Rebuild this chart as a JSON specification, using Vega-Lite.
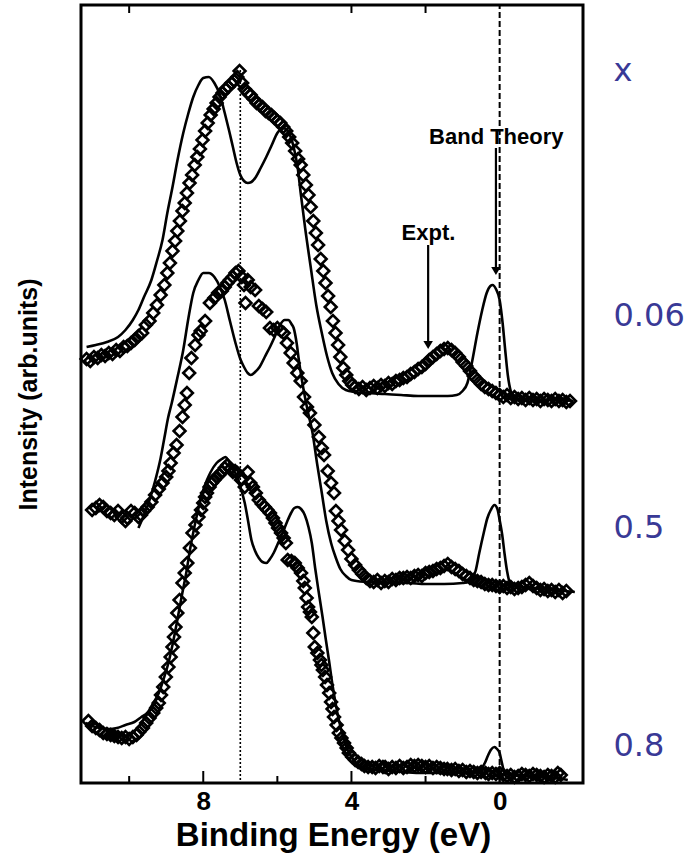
{
"$schema":"https://vega.github.io/schema/vega-lite/v6.json",
"width":502,"height":778,
"autosize":{"type":"none"},
"padding":{"left":81,"top":5,"right":110,"bottom":78},
"background":"white",
"config":{"view":{"stroke":"#000","strokeWidth":3},"axis":{"grid":false}},
"datasets":{
"expt":[
{"s":"0.06","E":11.15,"I":424},{"s":"0.06","E":11.05,"I":422},{"s":"0.06","E":10.95,"I":426},{"s":"0.06","E":10.85,"I":425},{"s":"0.06","E":10.75,"I":428},{"s":"0.06","E":10.65,"I":427},{"s":"0.06","E":10.55,"I":430},{"s":"0.06","E":10.45,"I":429},{"s":"0.06","E":10.35,"I":433},{"s":"0.06","E":10.25,"I":432},{"s":"0.06","E":10.15,"I":436},{"s":"0.06","E":10.05,"I":437},{"s":"0.06","E":9.95,"I":440},{"s":"0.06","E":9.85,"I":443},{"s":"0.06","E":9.75,"I":447},{"s":"0.06","E":9.65,"I":450},{"s":"0.06","E":9.55,"I":458},{"s":"0.06","E":9.45,"I":462},{"s":"0.06","E":9.35,"I":470},{"s":"0.06","E":9.25,"I":478},{"s":"0.06","E":9.15,"I":488},{"s":"0.06","E":9.05,"I":498},{"s":"0.06","E":8.97,"I":510},{"s":"0.06","E":8.9,"I":520},{"s":"0.06","E":8.83,"I":532},{"s":"0.06","E":8.76,"I":542},{"s":"0.06","E":8.7,"I":552},{"s":"0.06","E":8.63,"I":562},{"s":"0.06","E":8.56,"I":572},{"s":"0.06","E":8.5,"I":580},{"s":"0.06","E":8.44,"I":590},{"s":"0.06","E":8.37,"I":600},{"s":"0.06","E":8.3,"I":608},{"s":"0.06","E":8.23,"I":618},{"s":"0.06","E":8.16,"I":626},{"s":"0.06","E":8.09,"I":634},{"s":"0.06","E":8.02,"I":643},{"s":"0.06","E":7.95,"I":652},{"s":"0.06","E":7.88,"I":660},{"s":"0.06","E":7.8,"I":668},{"s":"0.06","E":7.72,"I":674},{"s":"0.06","E":7.64,"I":680},{"s":"0.06","E":7.56,"I":686},{"s":"0.06","E":7.48,"I":690},{"s":"0.06","E":7.4,"I":694},{"s":"0.06","E":7.32,"I":696},{"s":"0.06","E":7.24,"I":700},{"s":"0.06","E":7.16,"I":702},{"s":"0.06","E":7.08,"I":706},{"s":"0.06","E":7.02,"I":712},{"s":"0.06","E":6.95,"I":700},{"s":"0.06","E":6.88,"I":694},{"s":"0.06","E":6.8,"I":690},{"s":"0.06","E":6.72,"I":688},{"s":"0.06","E":6.64,"I":684},{"s":"0.06","E":6.56,"I":680},{"s":"0.06","E":6.48,"I":678},{"s":"0.06","E":6.4,"I":676},{"s":"0.06","E":6.32,"I":672},{"s":"0.06","E":6.24,"I":670},{"s":"0.06","E":6.16,"I":668},{"s":"0.06","E":6.08,"I":665},{"s":"0.06","E":6.0,"I":662},{"s":"0.06","E":5.92,"I":660},{"s":"0.06","E":5.84,"I":656},{"s":"0.06","E":5.76,"I":652},{"s":"0.06","E":5.68,"I":646},{"s":"0.06","E":5.6,"I":640},{"s":"0.06","E":5.52,"I":632},{"s":"0.06","E":5.44,"I":624},{"s":"0.06","E":5.37,"I":618},{"s":"0.06","E":5.3,"I":608},{"s":"0.06","E":5.23,"I":598},{"s":"0.06","E":5.16,"I":588},{"s":"0.06","E":5.1,"I":576},{"s":"0.06","E":5.03,"I":562},{"s":"0.06","E":4.96,"I":550},{"s":"0.06","E":4.9,"I":538},{"s":"0.06","E":4.83,"I":524},{"s":"0.06","E":4.76,"I":512},{"s":"0.06","E":4.7,"I":500},{"s":"0.06","E":4.63,"I":487},{"s":"0.06","E":4.56,"I":476},{"s":"0.06","E":4.5,"I":462},{"s":"0.06","E":4.43,"I":450},{"s":"0.06","E":4.36,"I":438},{"s":"0.06","E":4.3,"I":426},{"s":"0.06","E":4.22,"I":415},{"s":"0.06","E":4.14,"I":408},{"s":"0.06","E":4.06,"I":402},{"s":"0.06","E":3.98,"I":398},{"s":"0.06","E":3.9,"I":396},{"s":"0.06","E":3.8,"I":394},{"s":"0.06","E":3.7,"I":396},{"s":"0.06","E":3.6,"I":393},{"s":"0.06","E":3.5,"I":395},{"s":"0.06","E":3.4,"I":397},{"s":"0.06","E":3.3,"I":395},{"s":"0.06","E":3.2,"I":398},{"s":"0.06","E":3.1,"I":397},{"s":"0.06","E":3.0,"I":400},{"s":"0.06","E":2.9,"I":399},{"s":"0.06","E":2.8,"I":402},{"s":"0.06","E":2.7,"I":403},{"s":"0.06","E":2.6,"I":405},{"s":"0.06","E":2.5,"I":406},{"s":"0.06","E":2.4,"I":409},{"s":"0.06","E":2.3,"I":411},{"s":"0.06","E":2.2,"I":414},{"s":"0.06","E":2.1,"I":416},{"s":"0.06","E":2.0,"I":419},{"s":"0.06","E":1.9,"I":423},{"s":"0.06","E":1.8,"I":426},{"s":"0.06","E":1.7,"I":429},{"s":"0.06","E":1.6,"I":432},{"s":"0.06","E":1.5,"I":434},{"s":"0.06","E":1.4,"I":435},{"s":"0.06","E":1.3,"I":433},{"s":"0.06","E":1.2,"I":430},{"s":"0.06","E":1.1,"I":426},{"s":"0.06","E":1.0,"I":421},{"s":"0.06","E":0.9,"I":417},{"s":"0.06","E":0.8,"I":412},{"s":"0.06","E":0.7,"I":407},{"s":"0.06","E":0.6,"I":403},{"s":"0.06","E":0.5,"I":399},{"s":"0.06","E":0.4,"I":396},{"s":"0.06","E":0.3,"I":394},{"s":"0.06","E":0.2,"I":392},{"s":"0.06","E":0.1,"I":390},{"s":"0.06","E":0.0,"I":388},{"s":"0.06","E":-0.1,"I":386},{"s":"0.06","E":-0.2,"I":388},{"s":"0.06","E":-0.3,"I":385},{"s":"0.06","E":-0.4,"I":386},{"s":"0.06","E":-0.5,"I":384},{"s":"0.06","E":-0.6,"I":385},{"s":"0.06","E":-0.7,"I":383},{"s":"0.06","E":-0.8,"I":385},{"s":"0.06","E":-0.9,"I":383},{"s":"0.06","E":-1.0,"I":384},{"s":"0.06","E":-1.1,"I":382},{"s":"0.06","E":-1.2,"I":384},{"s":"0.06","E":-1.3,"I":383},{"s":"0.06","E":-1.4,"I":382},{"s":"0.06","E":-1.5,"I":384},{"s":"0.06","E":-1.6,"I":382},{"s":"0.06","E":-1.7,"I":383},{"s":"0.06","E":-1.8,"I":381},{"s":"0.06","E":-1.9,"I":382},
{"s":"0.5","E":11.0,"I":273},{"s":"0.5","E":10.9,"I":275},{"s":"0.5","E":10.8,"I":278},{"s":"0.5","E":10.7,"I":276},{"s":"0.5","E":10.6,"I":272},{"s":"0.5","E":10.5,"I":270},{"s":"0.5","E":10.4,"I":268},{"s":"0.5","E":10.3,"I":272},{"s":"0.5","E":10.2,"I":266},{"s":"0.5","E":10.1,"I":262},{"s":"0.5","E":10.05,"I":265},{"s":"0.5","E":9.95,"I":272},{"s":"0.5","E":9.85,"I":270},{"s":"0.5","E":9.75,"I":266},{"s":"0.5","E":9.68,"I":268},{"s":"0.5","E":9.6,"I":272},{"s":"0.5","E":9.5,"I":276},{"s":"0.5","E":9.4,"I":281},{"s":"0.5","E":9.3,"I":288},{"s":"0.5","E":9.2,"I":294},{"s":"0.5","E":9.1,"I":300},{"s":"0.5","E":9.0,"I":306},{"s":"0.5","E":8.94,"I":312},{"s":"0.5","E":8.88,"I":320},{"s":"0.5","E":8.8,"I":330},{"s":"0.5","E":8.72,"I":338},{"s":"0.5","E":8.64,"I":352},{"s":"0.5","E":8.56,"I":366},{"s":"0.5","E":8.5,"I":378},{"s":"0.5","E":8.44,"I":390},{"s":"0.5","E":8.38,"I":410},{"s":"0.5","E":8.32,"I":425},{"s":"0.5","E":8.22,"I":438},{"s":"0.5","E":8.13,"I":448},{"s":"0.5","E":8.07,"I":452},{"s":"0.5","E":7.95,"I":462},{"s":"0.5","E":7.82,"I":480},{"s":"0.5","E":7.7,"I":485},{"s":"0.5","E":7.6,"I":490},{"s":"0.5","E":7.5,"I":492},{"s":"0.5","E":7.42,"I":496},{"s":"0.5","E":7.35,"I":500},{"s":"0.5","E":7.28,"I":503},{"s":"0.5","E":7.2,"I":506},{"s":"0.5","E":7.13,"I":510},{"s":"0.5","E":7.05,"I":512},{"s":"0.5","E":6.96,"I":506},{"s":"0.5","E":6.9,"I":498},{"s":"0.5","E":6.86,"I":480},{"s":"0.5","E":6.8,"I":503},{"s":"0.5","E":6.72,"I":496},{"s":"0.5","E":6.6,"I":493},{"s":"0.5","E":6.5,"I":477},{"s":"0.5","E":6.4,"I":474},{"s":"0.5","E":6.3,"I":471},{"s":"0.5","E":6.2,"I":455},{"s":"0.5","E":6.1,"I":453},{"s":"0.5","E":6.0,"I":455},{"s":"0.5","E":5.9,"I":452},{"s":"0.5","E":5.83,"I":450},{"s":"0.5","E":5.74,"I":440},{"s":"0.5","E":5.64,"I":430},{"s":"0.5","E":5.56,"I":420},{"s":"0.5","E":5.46,"I":410},{"s":"0.5","E":5.37,"I":402},{"s":"0.5","E":5.28,"I":386},{"s":"0.5","E":5.2,"I":376},{"s":"0.5","E":5.12,"I":370},{"s":"0.5","E":5.0,"I":358},{"s":"0.5","E":4.88,"I":346},{"s":"0.5","E":4.8,"I":335},{"s":"0.5","E":4.74,"I":328},{"s":"0.5","E":4.64,"I":312},{"s":"0.5","E":4.55,"I":300},{"s":"0.5","E":4.47,"I":290},{"s":"0.5","E":4.42,"I":272},{"s":"0.5","E":4.35,"I":262},{"s":"0.5","E":4.28,"I":253},{"s":"0.5","E":4.18,"I":242},{"s":"0.5","E":4.09,"I":233},{"s":"0.5","E":4.0,"I":224},{"s":"0.5","E":3.9,"I":218},{"s":"0.5","E":3.8,"I":213},{"s":"0.5","E":3.71,"I":209},{"s":"0.5","E":3.6,"I":205},{"s":"0.5","E":3.5,"I":202},{"s":"0.5","E":3.4,"I":201},{"s":"0.5","E":3.3,"I":203},{"s":"0.5","E":3.2,"I":200},{"s":"0.5","E":3.1,"I":202},{"s":"0.5","E":3.0,"I":201},{"s":"0.5","E":2.9,"I":204},{"s":"0.5","E":2.8,"I":203},{"s":"0.5","E":2.7,"I":205},{"s":"0.5","E":2.6,"I":205},{"s":"0.5","E":2.5,"I":206},{"s":"0.5","E":2.4,"I":205},{"s":"0.5","E":2.3,"I":207},{"s":"0.5","E":2.2,"I":208},{"s":"0.5","E":2.1,"I":207},{"s":"0.5","E":2.0,"I":210},{"s":"0.5","E":1.9,"I":211},{"s":"0.5","E":1.8,"I":212},{"s":"0.5","E":1.7,"I":214},{"s":"0.5","E":1.6,"I":215},{"s":"0.5","E":1.5,"I":217},{"s":"0.5","E":1.4,"I":219},{"s":"0.5","E":1.3,"I":216},{"s":"0.5","E":1.2,"I":214},{"s":"0.5","E":1.1,"I":212},{"s":"0.5","E":1.0,"I":209},{"s":"0.5","E":0.9,"I":207},{"s":"0.5","E":0.8,"I":205},{"s":"0.5","E":0.7,"I":203},{"s":"0.5","E":0.6,"I":202},{"s":"0.5","E":0.5,"I":201},{"s":"0.5","E":0.4,"I":199},{"s":"0.5","E":0.3,"I":198},{"s":"0.5","E":0.2,"I":198},{"s":"0.5","E":0.1,"I":197},{"s":"0.5","E":0.0,"I":196},{"s":"0.5","E":-0.1,"I":197},{"s":"0.5","E":-0.2,"I":195},{"s":"0.5","E":-0.3,"I":196},{"s":"0.5","E":-0.4,"I":194},{"s":"0.5","E":-0.5,"I":195},{"s":"0.5","E":-0.6,"I":196},{"s":"0.5","E":-0.7,"I":198},{"s":"0.5","E":-0.8,"I":200},{"s":"0.5","E":-0.9,"I":197},{"s":"0.5","E":-1.0,"I":195},{"s":"0.5","E":-1.1,"I":193},{"s":"0.5","E":-1.2,"I":194},{"s":"0.5","E":-1.3,"I":192},{"s":"0.5","E":-1.4,"I":193},{"s":"0.5","E":-1.5,"I":191},{"s":"0.5","E":-1.6,"I":193},{"s":"0.5","E":-1.7,"I":190},{"s":"0.5","E":-1.8,"I":192},
{"s":"0.8","E":11.1,"I":62},{"s":"0.8","E":11.0,"I":57},{"s":"0.8","E":10.9,"I":55},{"s":"0.8","E":10.8,"I":53},{"s":"0.8","E":10.7,"I":50},{"s":"0.8","E":10.6,"I":49},{"s":"0.8","E":10.5,"I":48},{"s":"0.8","E":10.4,"I":47},{"s":"0.8","E":10.3,"I":46},{"s":"0.8","E":10.2,"I":45},{"s":"0.8","E":10.1,"I":46},{"s":"0.8","E":10.0,"I":44},{"s":"0.8","E":9.9,"I":46},{"s":"0.8","E":9.8,"I":48},{"s":"0.8","E":9.73,"I":51},{"s":"0.8","E":9.63,"I":55},{"s":"0.8","E":9.54,"I":60},{"s":"0.8","E":9.45,"I":65},{"s":"0.8","E":9.35,"I":70},{"s":"0.8","E":9.27,"I":75},{"s":"0.8","E":9.2,"I":80},{"s":"0.8","E":9.14,"I":88},{"s":"0.8","E":9.08,"I":96},{"s":"0.8","E":9.01,"I":106},{"s":"0.8","E":8.94,"I":116},{"s":"0.8","E":8.88,"I":126},{"s":"0.8","E":8.83,"I":136},{"s":"0.8","E":8.79,"I":146},{"s":"0.8","E":8.75,"I":156},{"s":"0.8","E":8.7,"I":170},{"s":"0.8","E":8.64,"I":183},{"s":"0.8","E":8.56,"I":200},{"s":"0.8","E":8.5,"I":210},{"s":"0.8","E":8.43,"I":220},{"s":"0.8","E":8.36,"I":235},{"s":"0.8","E":8.29,"I":250},{"s":"0.8","E":8.21,"I":258},{"s":"0.8","E":8.13,"I":266},{"s":"0.8","E":8.06,"I":273},{"s":"0.8","E":8.0,"I":280},{"s":"0.8","E":7.95,"I":286},{"s":"0.8","E":7.9,"I":290},{"s":"0.8","E":7.83,"I":296},{"s":"0.8","E":7.77,"I":300},{"s":"0.8","E":7.7,"I":303},{"s":"0.8","E":7.64,"I":306},{"s":"0.8","E":7.57,"I":308},{"s":"0.8","E":7.5,"I":311},{"s":"0.8","E":7.42,"I":315},{"s":"0.8","E":7.35,"I":318},{"s":"0.8","E":7.27,"I":314},{"s":"0.8","E":7.2,"I":311},{"s":"0.8","E":7.14,"I":312},{"s":"0.8","E":7.08,"I":310},{"s":"0.8","E":6.98,"I":303},{"s":"0.8","E":6.88,"I":296},{"s":"0.8","E":6.8,"I":311},{"s":"0.8","E":6.73,"I":300},{"s":"0.8","E":6.66,"I":296},{"s":"0.8","E":6.58,"I":290},{"s":"0.8","E":6.5,"I":283},{"s":"0.8","E":6.42,"I":279},{"s":"0.8","E":6.34,"I":276},{"s":"0.8","E":6.27,"I":273},{"s":"0.8","E":6.2,"I":270},{"s":"0.8","E":6.12,"I":265},{"s":"0.8","E":6.05,"I":260},{"s":"0.8","E":5.98,"I":255},{"s":"0.8","E":5.9,"I":250},{"s":"0.8","E":5.83,"I":245},{"s":"0.8","E":5.77,"I":240},{"s":"0.8","E":5.72,"I":223},{"s":"0.8","E":5.62,"I":222},{"s":"0.8","E":5.53,"I":220},{"s":"0.8","E":5.45,"I":215},{"s":"0.8","E":5.36,"I":210},{"s":"0.8","E":5.3,"I":202},{"s":"0.8","E":5.26,"I":195},{"s":"0.8","E":5.21,"I":185},{"s":"0.8","E":5.17,"I":176},{"s":"0.8","E":5.12,"I":171},{"s":"0.8","E":5.07,"I":166},{"s":"0.8","E":5.03,"I":150},{"s":"0.8","E":4.99,"I":136},{"s":"0.8","E":4.92,"I":130},{"s":"0.8","E":4.85,"I":123},{"s":"0.8","E":4.81,"I":118},{"s":"0.8","E":4.77,"I":113},{"s":"0.8","E":4.71,"I":106},{"s":"0.8","E":4.66,"I":98},{"s":"0.8","E":4.6,"I":90},{"s":"0.8","E":4.55,"I":81},{"s":"0.8","E":4.51,"I":74},{"s":"0.8","E":4.47,"I":66},{"s":"0.8","E":4.4,"I":58},{"s":"0.8","E":4.34,"I":50},{"s":"0.8","E":4.27,"I":45},{"s":"0.8","E":4.2,"I":40},{"s":"0.8","E":4.13,"I":35},{"s":"0.8","E":4.07,"I":30},{"s":"0.8","E":3.98,"I":26},{"s":"0.8","E":3.9,"I":23},{"s":"0.8","E":3.82,"I":21},{"s":"0.8","E":3.73,"I":19},{"s":"0.8","E":3.65,"I":17},{"s":"0.8","E":3.55,"I":16},{"s":"0.8","E":3.44,"I":16},{"s":"0.8","E":3.35,"I":15},{"s":"0.8","E":3.25,"I":17},{"s":"0.8","E":3.15,"I":16},{"s":"0.8","E":3.09,"I":16},{"s":"0.8","E":3.0,"I":14},{"s":"0.8","E":2.9,"I":16},{"s":"0.8","E":2.8,"I":15},{"s":"0.8","E":2.7,"I":17},{"s":"0.8","E":2.6,"I":15},{"s":"0.8","E":2.5,"I":16},{"s":"0.8","E":2.4,"I":18},{"s":"0.8","E":2.3,"I":17},{"s":"0.8","E":2.2,"I":18},{"s":"0.8","E":2.1,"I":17},{"s":"0.8","E":2.0,"I":16},{"s":"0.8","E":1.9,"I":17},{"s":"0.8","E":1.8,"I":15},{"s":"0.8","E":1.7,"I":16},{"s":"0.8","E":1.6,"I":15},{"s":"0.8","E":1.5,"I":14},{"s":"0.8","E":1.41,"I":14},{"s":"0.8","E":1.3,"I":13},{"s":"0.8","E":1.2,"I":14},{"s":"0.8","E":1.1,"I":12},{"s":"0.8","E":1.0,"I":13},{"s":"0.8","E":0.9,"I":11},{"s":"0.8","E":0.8,"I":12},{"s":"0.8","E":0.7,"I":11},{"s":"0.8","E":0.6,"I":10},{"s":"0.8","E":0.5,"I":11},{"s":"0.8","E":0.38,"I":10},{"s":"0.8","E":0.3,"I":9},{"s":"0.8","E":0.2,"I":10},{"s":"0.8","E":0.1,"I":9},{"s":"0.8","E":0.0,"I":10},{"s":"0.8","E":-0.1,"I":8},{"s":"0.8","E":-0.2,"I":7},{"s":"0.8","E":-0.3,"I":8},{"s":"0.8","E":-0.4,"I":6},{"s":"0.8","E":-0.5,"I":7},{"s":"0.8","E":-0.6,"I":9},{"s":"0.8","E":-0.7,"I":8},{"s":"0.8","E":-0.8,"I":7},{"s":"0.8","E":-0.9,"I":9},{"s":"0.8","E":-1.0,"I":8},{"s":"0.8","E":-1.1,"I":7},{"s":"0.8","E":-1.2,"I":6},{"s":"0.8","E":-1.3,"I":8},{"s":"0.8","E":-1.4,"I":7},{"s":"0.8","E":-1.5,"I":6},{"s":"0.8","E":-1.57,"I":10},{"s":"0.8","E":-1.65,"I":8}
],
"theory":[
{"s":"0.06","E":11.15,"I":436},{"s":"0.06","E":10.9,"I":438},{"s":"0.06","E":10.6,"I":441},{"s":"0.06","E":10.3,"I":446},{"s":"0.06","E":10.1,"I":453},{"s":"0.06","E":9.9,"I":463},{"s":"0.06","E":9.75,"I":473},{"s":"0.06","E":9.6,"I":486},{"s":"0.06","E":9.4,"I":503},{"s":"0.06","E":9.25,"I":522},{"s":"0.06","E":9.1,"I":543},{"s":"0.06","E":8.97,"I":570},{"s":"0.06","E":8.83,"I":596},{"s":"0.06","E":8.7,"I":622},{"s":"0.06","E":8.54,"I":650},{"s":"0.06","E":8.4,"I":670},{"s":"0.06","E":8.27,"I":686},{"s":"0.06","E":8.13,"I":698},{"s":"0.06","E":8.0,"I":705},{"s":"0.06","E":7.85,"I":706},{"s":"0.06","E":7.7,"I":700},{"s":"0.06","E":7.55,"I":688},{"s":"0.06","E":7.42,"I":670},{"s":"0.06","E":7.3,"I":652},{"s":"0.06","E":7.2,"I":636},{"s":"0.06","E":7.1,"I":620},{"s":"0.06","E":7.0,"I":608},{"s":"0.06","E":6.9,"I":602},{"s":"0.06","E":6.8,"I":600},{"s":"0.06","E":6.7,"I":601},{"s":"0.06","E":6.58,"I":606},{"s":"0.06","E":6.45,"I":615},{"s":"0.06","E":6.3,"I":626},{"s":"0.06","E":6.15,"I":638},{"s":"0.06","E":6.0,"I":650},{"s":"0.06","E":5.85,"I":655},{"s":"0.06","E":5.74,"I":653},{"s":"0.06","E":5.65,"I":647},{"s":"0.06","E":5.56,"I":636},{"s":"0.06","E":5.45,"I":615},{"s":"0.06","E":5.37,"I":590},{"s":"0.06","E":5.25,"I":555},{"s":"0.06","E":5.1,"I":516},{"s":"0.06","E":4.95,"I":478},{"s":"0.06","E":4.8,"I":450},{"s":"0.06","E":4.66,"I":427},{"s":"0.06","E":4.52,"I":410},{"s":"0.06","E":4.35,"I":399},{"s":"0.06","E":4.15,"I":393},{"s":"0.06","E":3.9,"I":391},{"s":"0.06","E":3.58,"I":390},{"s":"0.06","E":3.1,"I":389},{"s":"0.06","E":2.66,"I":388},{"s":"0.06","E":2.2,"I":387},{"s":"0.06","E":1.7,"I":387},{"s":"0.06","E":1.4,"I":387},{"s":"0.06","E":1.16,"I":388},{"s":"0.06","E":1.0,"I":392},{"s":"0.06","E":0.87,"I":400},{"s":"0.06","E":0.75,"I":420},{"s":"0.06","E":0.6,"I":450},{"s":"0.06","E":0.47,"I":473},{"s":"0.06","E":0.35,"I":490},{"s":"0.06","E":0.25,"I":497},{"s":"0.06","E":0.19,"I":498},{"s":"0.06","E":0.1,"I":494},{"s":"0.06","E":0.0,"I":483},{"s":"0.06","E":-0.08,"I":460},{"s":"0.06","E":-0.15,"I":433},{"s":"0.06","E":-0.22,"I":408},{"s":"0.06","E":-0.3,"I":392},{"s":"0.06","E":-0.43,"I":384},{"s":"0.06","E":-0.7,"I":384},{"s":"0.06","E":-1.0,"I":383},{"s":"0.06","E":-1.5,"I":383},{"s":"0.06","E":-2.0,"I":382},
{"s":"0.5","E":9.75,"I":255},{"s":"0.5","E":9.6,"I":268},{"s":"0.5","E":9.45,"I":283},{"s":"0.5","E":9.3,"I":302},{"s":"0.5","E":9.15,"I":325},{"s":"0.5","E":9.05,"I":345},{"s":"0.5","E":8.95,"I":365},{"s":"0.5","E":8.85,"I":380},{"s":"0.5","E":8.7,"I":405},{"s":"0.5","E":8.54,"I":433},{"s":"0.5","E":8.4,"I":465},{"s":"0.5","E":8.27,"I":490},{"s":"0.5","E":8.13,"I":503},{"s":"0.5","E":8.0,"I":510},{"s":"0.5","E":7.85,"I":510},{"s":"0.5","E":7.7,"I":506},{"s":"0.5","E":7.55,"I":496},{"s":"0.5","E":7.42,"I":483},{"s":"0.5","E":7.28,"I":462},{"s":"0.5","E":7.13,"I":440},{"s":"0.5","E":7.0,"I":424},{"s":"0.5","E":6.9,"I":416},{"s":"0.5","E":6.8,"I":410},{"s":"0.5","E":6.72,"I":408},{"s":"0.5","E":6.6,"I":411},{"s":"0.5","E":6.48,"I":416},{"s":"0.5","E":6.34,"I":426},{"s":"0.5","E":6.2,"I":436},{"s":"0.5","E":6.05,"I":448},{"s":"0.5","E":5.93,"I":458},{"s":"0.5","E":5.8,"I":463},{"s":"0.5","E":5.7,"I":463},{"s":"0.5","E":5.62,"I":459},{"s":"0.5","E":5.56,"I":455},{"s":"0.5","E":5.48,"I":440},{"s":"0.5","E":5.42,"I":423},{"s":"0.5","E":5.3,"I":395},{"s":"0.5","E":5.18,"I":372},{"s":"0.5","E":5.05,"I":350},{"s":"0.5","E":4.93,"I":320},{"s":"0.5","E":4.8,"I":290},{"s":"0.5","E":4.68,"I":262},{"s":"0.5","E":4.55,"I":240},{"s":"0.5","E":4.42,"I":225},{"s":"0.5","E":4.3,"I":214},{"s":"0.5","E":4.15,"I":207},{"s":"0.5","E":4.0,"I":203},{"s":"0.5","E":3.6,"I":201},{"s":"0.5","E":3.0,"I":200},{"s":"0.5","E":2.5,"I":200},{"s":"0.5","E":2.0,"I":199},{"s":"0.5","E":1.5,"I":199},{"s":"0.5","E":1.0,"I":200},{"s":"0.5","E":0.84,"I":201},{"s":"0.5","E":0.75,"I":204},{"s":"0.5","E":0.65,"I":212},{"s":"0.5","E":0.55,"I":230},{"s":"0.5","E":0.43,"I":250},{"s":"0.5","E":0.33,"I":265},{"s":"0.5","E":0.24,"I":273},{"s":"0.5","E":0.14,"I":278},{"s":"0.5","E":0.06,"I":274},{"s":"0.5","E":0.0,"I":263},{"s":"0.5","E":-0.07,"I":248},{"s":"0.5","E":-0.13,"I":230},{"s":"0.5","E":-0.2,"I":212},{"s":"0.5","E":-0.27,"I":201},{"s":"0.5","E":-0.4,"I":197},{"s":"0.5","E":-0.6,"I":196},{"s":"0.5","E":-1.0,"I":195},{"s":"0.5","E":-1.5,"I":193},{"s":"0.5","E":-2.03,"I":191},
{"s":"0.8","E":11.17,"I":60},{"s":"0.8","E":11.0,"I":57},{"s":"0.8","E":10.8,"I":55},{"s":"0.8","E":10.55,"I":54},{"s":"0.8","E":10.33,"I":55},{"s":"0.8","E":10.1,"I":58},{"s":"0.8","E":9.86,"I":61},{"s":"0.8","E":9.67,"I":66},{"s":"0.8","E":9.49,"I":71},{"s":"0.8","E":9.35,"I":80},{"s":"0.8","E":9.2,"I":90},{"s":"0.8","E":9.07,"I":104},{"s":"0.8","E":8.94,"I":120},{"s":"0.8","E":8.82,"I":140},{"s":"0.8","E":8.7,"I":163},{"s":"0.8","E":8.58,"I":187},{"s":"0.8","E":8.46,"I":210},{"s":"0.8","E":8.35,"I":235},{"s":"0.8","E":8.24,"I":256},{"s":"0.8","E":8.12,"I":276},{"s":"0.8","E":8.0,"I":293},{"s":"0.8","E":7.9,"I":303},{"s":"0.8","E":7.8,"I":311},{"s":"0.8","E":7.64,"I":320},{"s":"0.8","E":7.5,"I":324},{"s":"0.8","E":7.4,"I":326},{"s":"0.8","E":7.33,"I":323},{"s":"0.8","E":7.26,"I":318},{"s":"0.8","E":7.17,"I":312},{"s":"0.8","E":7.08,"I":306},{"s":"0.8","E":6.98,"I":294},{"s":"0.8","E":6.88,"I":280},{"s":"0.8","E":6.79,"I":262},{"s":"0.8","E":6.7,"I":243},{"s":"0.8","E":6.6,"I":232},{"s":"0.8","E":6.5,"I":225},{"s":"0.8","E":6.4,"I":221},{"s":"0.8","E":6.3,"I":220},{"s":"0.8","E":6.2,"I":224},{"s":"0.8","E":6.1,"I":230},{"s":"0.8","E":5.98,"I":240},{"s":"0.8","E":5.86,"I":250},{"s":"0.8","E":5.74,"I":261},{"s":"0.8","E":5.63,"I":270},{"s":"0.8","E":5.54,"I":275},{"s":"0.8","E":5.45,"I":276},{"s":"0.8","E":5.36,"I":274},{"s":"0.8","E":5.26,"I":268},{"s":"0.8","E":5.16,"I":256},{"s":"0.8","E":5.07,"I":240},{"s":"0.8","E":4.98,"I":215},{"s":"0.8","E":4.88,"I":190},{"s":"0.8","E":4.78,"I":166},{"s":"0.8","E":4.69,"I":143},{"s":"0.8","E":4.6,"I":121},{"s":"0.8","E":4.52,"I":100},{"s":"0.8","E":4.43,"I":80},{"s":"0.8","E":4.34,"I":63},{"s":"0.8","E":4.22,"I":46},{"s":"0.8","E":4.1,"I":33},{"s":"0.8","E":3.96,"I":24},{"s":"0.8","E":3.82,"I":18},{"s":"0.8","E":3.6,"I":14},{"s":"0.8","E":3.36,"I":13},{"s":"0.8","E":3.0,"I":12},{"s":"0.8","E":2.6,"I":11},{"s":"0.8","E":2.1,"I":10},{"s":"0.8","E":1.68,"I":10},{"s":"0.8","E":1.2,"I":10},{"s":"0.8","E":0.8,"I":11},{"s":"0.8","E":0.57,"I":11},{"s":"0.8","E":0.48,"I":15},{"s":"0.8","E":0.4,"I":20},{"s":"0.8","E":0.32,"I":27},{"s":"0.8","E":0.24,"I":33},{"s":"0.8","E":0.14,"I":36},{"s":"0.8","E":0.07,"I":34},{"s":"0.8","E":0.0,"I":30},{"s":"0.8","E":-0.05,"I":22},{"s":"0.8","E":-0.11,"I":13},{"s":"0.8","E":-0.2,"I":9},{"s":"0.8","E":-0.27,"I":8},{"s":"0.8","E":-0.6,"I":7},{"s":"0.8","E":-1.1,"I":6},{"s":"0.8","E":-1.5,"I":5},{"s":"0.8","E":-1.84,"I":3}
],
"ticks":[
{"E":8,"y1":0,"y2":12},{"E":4,"y1":0,"y2":12},{"E":0,"y1":0,"y2":12},{"E":10,"y1":0,"y2":7},{"E":6,"y1":0,"y2":7},{"E":2,"y1":0,"y2":7},
{"E":10,"y1":778,"y2":770},{"E":4,"y1":778,"y2":770},{"E":2,"y1":778,"y2":770}
],
"vlines":[
{"kind":"dotted","E":7.0,"y1":3,"y2":715},
{"kind":"dashed","E":0.0,"y1":0,"y2":778}
],
"arrows":[
{"label":"Band Theory","E":0.1,"y1":635,"y2":512,"tx":0.09,"ty":646},
{"label":"Expt.","E":1.93,"y1":538,"y2":438,"tx":1.92,"ty":550}
]
},
"layer":[
{"data":{"name":"ticks"},"mark":{"type":"rule","color":"#000","strokeWidth":2},
 "encoding":{"x":{"field":"E","type":"quantitative","scale":{"domain":[-2.25,11.3],"reverse":true,"nice":false,"zero":false},"axis":{"orient":"bottom","values":[8,4,0],"ticks":false,"domain":false,"labelFont":"Liberation Sans","labelFontWeight":"bold","labelFontSize":26,"labelColor":"#000","labelPadding":5,"title":"Binding Energy  (eV)","titleFont":"Liberation Sans","titleFontWeight":"bold","titleFontSize":33,"titleColor":"#000","titleX":252,"titleY":52,"titleBaseline":"middle"}},
  "y":{"field":"y1","type":"quantitative","scale":{"domain":[0,778],"nice":false,"zero":false},"axis":null},"y2":{"field":"y2"}}},
{"data":{"name":"vlines"},"transform":[{"filter":"datum.kind=='dotted'"}],"mark":{"type":"rule","color":"#000","strokeWidth":1.6,"strokeDash":[2,2]},
 "encoding":{"x":{"field":"E","type":"quantitative"},"y":{"field":"y1","type":"quantitative","axis":null},"y2":{"field":"y2"}}},
{"data":{"name":"vlines"},"transform":[{"filter":"datum.kind=='dashed'"}],"mark":{"type":"rule","color":"#000","strokeWidth":2,"strokeDash":[6,3]},
 "encoding":{"x":{"field":"E","type":"quantitative"},"y":{"field":"y1","type":"quantitative","axis":null},"y2":{"field":"y2"}}},
{"data":{"name":"theory"},"mark":{"type":"line","color":"#000","strokeWidth":2.6,"interpolate":"monotone"},
 "encoding":{"x":{"field":"E","type":"quantitative"},"y":{"field":"I","type":"quantitative","axis":{"orient":"left","labels":false,"ticks":false,"domain":false,"title":"Intensity (arb.units)","titleFont":"Liberation Sans","titleFontWeight":"bold","titleFontSize":25,"titleColor":"#000","titleX":-53,"titleY":389,"titleAngle":-90,"titleAlign":"center","titleBaseline":"middle"}},"detail":{"field":"s"}}},
{"data":{"name":"expt"},"mark":{"type":"point","shape":"diamond","filled":false,"color":"#000","strokeWidth":2.6,"size":140,"opacity":1},
 "encoding":{"x":{"field":"E","type":"quantitative"},"y":{"field":"I","type":"quantitative","axis":{"orient":"right","values":[38,256,468,713],"labelExpr":"datum.value==713?'x':datum.value==468?'0.06':datum.value==256?'0.5':'0.8'","ticks":false,"domain":false,"labelFont":"DejaVu Sans","labelFontSize":32,"labelColor":"#393996","labelPadding":30,"labelAlign":"left","labelBaseline":"middle","title":null}}}},
{"data":{"name":"arrows"},"mark":{"type":"rule","color":"#000","strokeWidth":2.2},
 "encoding":{"x":{"field":"E","type":"quantitative"},"y":{"field":"y1","type":"quantitative","axis":null},"y2":{"field":"y2"}}},
{"data":{"name":"arrows"},"mark":{"type":"point","shape":"triangle-down","filled":true,"color":"#000","size":90,"opacity":1},
 "encoding":{"x":{"field":"E","type":"quantitative"},"y":{"field":"y2","type":"quantitative","axis":null}}},
{"data":{"name":"arrows"},"mark":{"type":"text","font":"Liberation Sans","fontWeight":"bold","fontSize":22,"color":"#000","baseline":"middle","align":"center"},
 "encoding":{"x":{"field":"tx","type":"quantitative"},"y":{"field":"ty","type":"quantitative","axis":null},"text":{"field":"label"}}}
],
"resolve":{"axis":{"y":"independent"}}
}
